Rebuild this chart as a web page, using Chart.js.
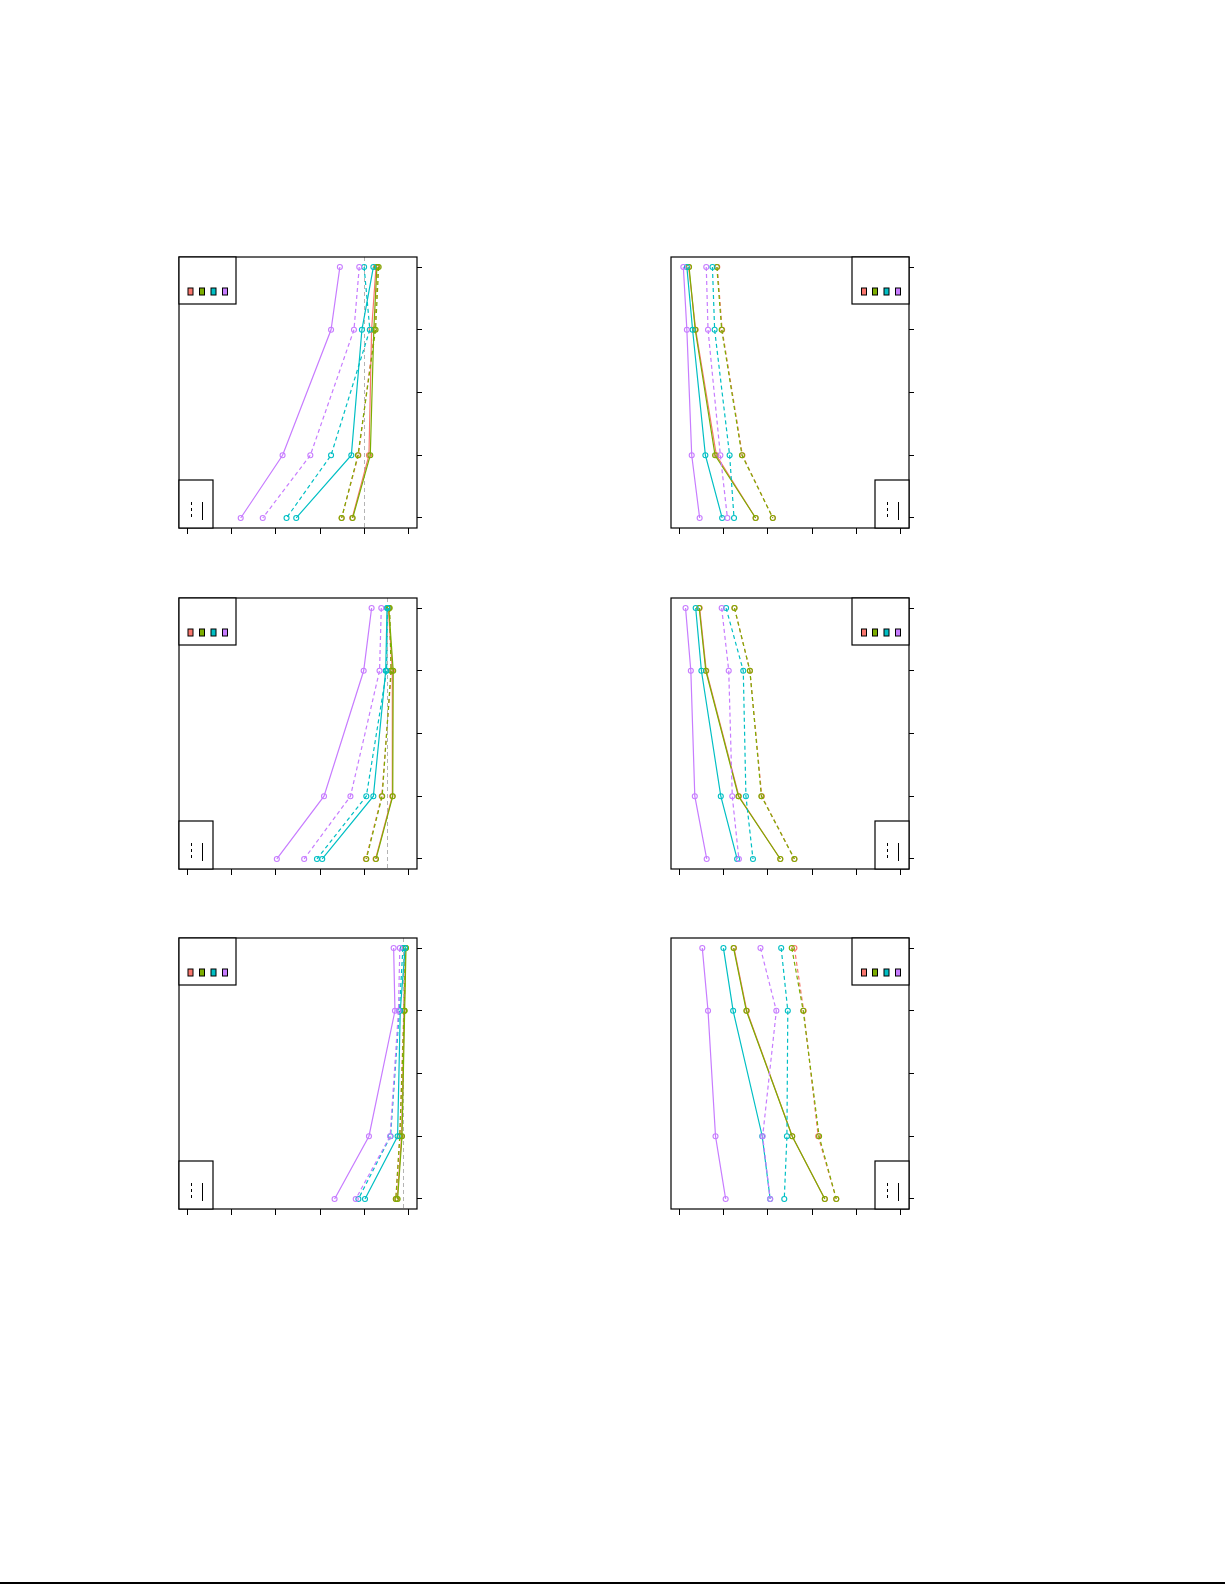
<!DOCTYPE html>
<html>
<head>
<meta charset="utf-8">
<script src="https://cdn.jsdelivr.net/npm/chart.js"></script>
<style>
  html, body { margin: 0; padding: 0; background: #ffffff; }
  body { width: 1225px; height: 1585px; position: relative; overflow: hidden; font-family: "DejaVu Sans", sans-serif; }
  canvas { position: absolute; }
  #baseline { position: absolute; left: 0; top: 1582px; width: 1225px; height: 2px; background: #000; }
</style>
</head>
<body>
<div id="baseline"></div>
<script>
// levels where the series have points (level 3 is empty)
const LEVELS = [1, 2, 4, 5];
const X_TICKS = [0, 1, 2, 3, 4, 5];
const Y_TICKS = [1, 2, 3, 4, 5];

// series order inside each array: red, olive, teal, purple
const A_SOLID  = [[4.27, 4.17, 4.11, 3.73], [4.29, 4.22, 4.14, 3.74], [4.21, 3.95, 3.71, 2.46], [3.45, 3.25, 2.15, 1.20]];
const A_DASHED = [[4.31, 4.24, 3.87, 3.49], [4.33, 4.26, 3.86, 3.49], [4.00, 4.13, 3.25, 2.24], [3.89, 3.77, 2.78, 1.70]];
const A_REF = 4.0;

const B_SOLID  = [[0.20, 0.36, 0.83, 1.72], [0.21, 0.35, 0.80, 1.72], [0.16, 0.29, 0.58, 0.96], [0.08, 0.16, 0.27, 0.45]];
const B_DASHED = [[0.85, 0.96, 1.42, 2.11], [0.84, 0.95, 1.41, 2.11], [0.74, 0.79, 1.13, 1.23], [0.60, 0.64, 0.92, 1.08]];

const C_SOLID  = [[4.55, 4.64, 4.64, 4.26], [4.56, 4.66, 4.65, 4.27], [4.52, 4.49, 4.21, 3.05], [4.17, 3.99, 3.09, 2.02]];
const C_DASHED = [[4.57, 4.62, 4.40, 4.04], [4.58, 4.61, 4.41, 4.05], [4.53, 4.51, 4.05, 2.93], [4.39, 4.35, 3.69, 2.64]];
const C_REF = 4.51;

const D_SOLID  = [[0.45, 0.60, 1.34, 2.28], [0.44, 0.59, 1.33, 2.28], [0.36, 0.49, 0.93, 1.30], [0.13, 0.25, 0.34, 0.61]];
const D_DASHED = [[1.24, 1.59, 1.86, 2.60], [1.24, 1.59, 1.85, 2.60], [1.05, 1.44, 1.50, 1.66], [0.95, 1.11, 1.19, 1.34]];

const E_SOLID  = [[4.94, 4.91, 4.85, 4.75], [4.95, 4.92, 4.86, 4.76], [4.93, 4.82, 4.76, 4.02], [4.67, 4.70, 4.11, 3.33]];
const E_DASHED = [[4.93, 4.90, 4.81, 4.72], [4.94, 4.91, 4.81, 4.72], [4.88, 4.80, 4.60, 3.87], [4.81, 4.78, 4.59, 3.81]];
const E_REF = 4.89;

const F_SOLID  = [[1.23, 1.52, 2.55, 3.29], [1.22, 1.51, 2.55, 3.29], [0.99, 1.21, 1.87, 2.05], [0.51, 0.64, 0.81, 1.04]];
const F_DASHED = [[2.60, 2.81, 3.14, 3.55], [2.54, 2.80, 3.16, 3.55], [2.30, 2.45, 2.43, 2.37], [1.83, 2.19, 1.88, 2.05]];

const COLORS = ['#F8766D', '#7CAE00', '#00BFC4', '#C77CFF'];
const DASH = [4, 3];

// panel boxes (plot area) on the page
const PANELS = [
  { solid: A_SOLID, dashed: A_DASHED, ref: A_REF, side: 'left',  x: 179, y: 257 },
  { solid: B_SOLID, dashed: B_DASHED, ref: null,  side: 'right', x: 671, y: 257 },
  { solid: C_SOLID, dashed: C_DASHED, ref: C_REF, side: 'left',  x: 179, y: 598 },
  { solid: D_SOLID, dashed: D_DASHED, ref: null,  side: 'right', x: 671, y: 598 },
  { solid: E_SOLID, dashed: E_DASHED, ref: E_REF, side: 'left',  x: 179, y: 938 },
  { solid: F_SOLID, dashed: F_DASHED, ref: null,  side: 'right', x: 671, y: 938 }
];
const BOX_W = 238, BOX_H = 271;

function toPoints(values) {
  return values.map((v, i) => ({ x: v, y: LEVELS[i] }));
}

function makeDatasets(panel) {
  const sets = [];
  // first dataset is drawn on top, so purple goes first
  for (let g = COLORS.length - 1; g >= 0; g--) {
    [['solid', panel.solid], ['dashed', panel.dashed]].forEach(([kind, arr]) => {
      sets.push({
        data: toPoints(arr[g]),
        showLine: true,
        borderColor: COLORS[g],
        borderWidth: 1.2,
        borderDash: kind === 'dashed' ? DASH : [],
        pointRadius: 2.5,
        pointBorderWidth: 1.1,
        pointBorderColor: COLORS[g],
        pointBackgroundColor: 'rgba(0,0,0,0)',
        tension: 0
      });
    });
  }
  return sets;
}

const framePlugin = {
  id: 'frame',
  beforeDatasetsDraw(chart) {
    const ref = chart.options.plugins.frame.ref;
    if (ref === null || ref === undefined) return;
    const a = chart.chartArea, ctx = chart.ctx;
    const px = Math.round(chart.scales.x.getPixelForValue(ref)) + 0.5;
    ctx.save();
    ctx.strokeStyle = '#b4b4b4';
    ctx.lineWidth = 1;
    ctx.setLineDash([4, 3]);
    ctx.beginPath();
    ctx.moveTo(px, a.top);
    ctx.lineTo(px, a.bottom);
    ctx.stroke();
    ctx.restore();
  },
  afterDraw(chart) {
    const side = chart.options.plugins.frame.side;
    const a = chart.chartArea, ctx = chart.ctx;
    ctx.save();
    ctx.strokeStyle = '#000';
    ctx.lineWidth = 1.2;
    ctx.strokeRect(a.left, a.top, a.right - a.left, a.bottom - a.top);

    // colour key box
    const kw = 57, kh = 47;
    const kx = side === 'left' ? a.left : a.right - kw;
    ctx.fillStyle = '#fff';
    ctx.fillRect(kx, a.top, kw, kh);
    ctx.strokeRect(kx, a.top, kw, kh);
    const offs = side === 'left' ? [11.5, 23, 34.5, 46] : [12, 23, 34.5, 46];
    COLORS.forEach((c, i) => {
      const cx = kx + offs[i];
      ctx.fillStyle = c;
      ctx.fillRect(cx - 2.5, a.top + 31, 5, 7);
      ctx.lineWidth = 1;
      ctx.strokeRect(cx - 2.5, a.top + 31, 5, 7);
    });

    // line type key box
    const lw = 34, lh = 48;
    const lx = side === 'left' ? a.left : a.right - lw;
    ctx.lineWidth = 1.2;
    ctx.fillStyle = '#fff';
    ctx.fillRect(lx, a.bottom - lh, lw, lh);
    ctx.strokeRect(lx, a.bottom - lh, lw, lh);
    ctx.lineWidth = 1;
    ctx.beginPath();
    ctx.setLineDash([3, 3]);
    ctx.moveTo(lx + 12.5, a.bottom - 26);
    ctx.lineTo(lx + 12.5, a.bottom - 8);
    ctx.stroke();
    ctx.setLineDash([]);
    ctx.beginPath();
    ctx.moveTo(lx + 23.5, a.bottom - 26);
    ctx.lineTo(lx + 23.5, a.bottom - 8);
    ctx.stroke();
    ctx.restore();
  }
};

PANELS.forEach(panel => {
  const canvas = document.createElement('canvas');
  canvas.width = BOX_W + 50;
  canvas.height = BOX_H + 40;
  canvas.style.left = (panel.x - 10) + 'px';
  canvas.style.top = (panel.y - 10) + 'px';
  canvas.style.width = canvas.width + 'px';
  canvas.style.height = canvas.height + 'px';
  document.body.appendChild(canvas);

  new Chart(canvas.getContext('2d'), {
    type: 'scatter',
    data: { datasets: makeDatasets(panel) },
    plugins: [framePlugin],
    options: {
      responsive: false,
      animation: false,
      devicePixelRatio: 1,
      layout: { padding: { left: 10, top: 10, right: 20, bottom: 10 } },
      plugins: {
        legend: { display: false },
        tooltip: { enabled: false },
        frame: { side: panel.side, ref: panel.ref }
      },
      scales: {
        x: {
          type: 'linear',
          position: 'bottom',
          min: -0.2,
          max: 5.2,
          afterBuildTicks: s => { s.ticks = X_TICKS.map(v => ({ value: v })); },
          afterFit: s => { s.height = 20; },
          ticks: { display: false },
          border: { display: false },
          grid: { drawOnChartArea: false, drawTicks: true, tickLength: 6, color: '#000', lineWidth: 1 }
        },
        y: {
          type: 'linear',
          position: 'right',
          reverse: true,
          min: 0.84,
          max: 5.16,
          afterBuildTicks: s => { s.ticks = Y_TICKS.map(v => ({ value: v })); },
          afterFit: s => { s.width = 20; },
          ticks: { display: false },
          border: { display: false },
          grid: { drawOnChartArea: false, drawTicks: true, tickLength: 5, color: '#000', lineWidth: 1 }
        }
      }
    }
  });
});
</script>
</body>
</html>
